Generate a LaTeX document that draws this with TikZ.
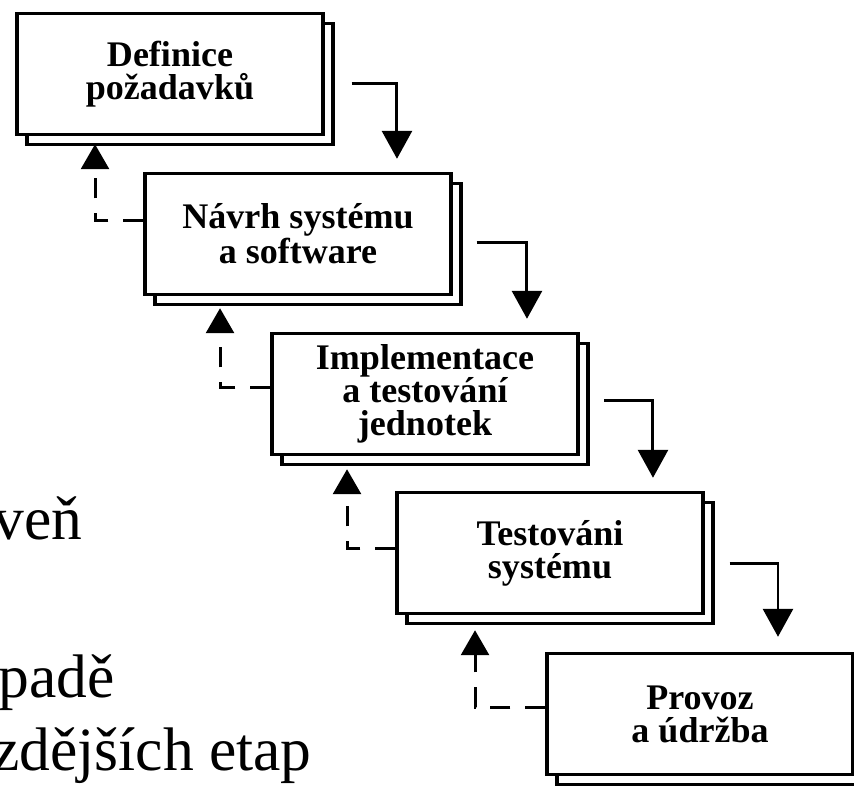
\documentclass[tikz,border=0pt]{standalone}
\usepackage{fontspec}
\setmainfont{Liberation Serif}
\usetikzlibrary{arrows.meta,shadows}

\tikzset{
  phase/.style={draw,fill=white,line width=0.07cm,
    minimum width=6.12cm,minimum height=2.42cm,align=center,
    font=\fontsize{20.5}{18.8}\selectfont\bfseries,
    copy shadow={shadow xshift=0.2cm,shadow yshift=-0.2cm}},
  flow/.style={line width=0.06cm,-{Triangle[length=0.56cm,width=0.6cm]}},
  back/.style={line width=0.06cm,dash pattern=on 0.4cm off 0.3cm,
    -{Triangle[length=0.5cm,width=0.56cm]}},
  residue/.style={anchor=base east,inner sep=0pt,
    font=\fontsize{35}{42}\selectfont}
}

\begin{document}
\begin{tikzpicture}[x=0.02cm,y=-0.02cm]
  \useasboundingbox (0,0) rectangle (854,785);
  \clip (0,0) rectangle (854,785);

  % text cut off at the left edge
  \node[residue] (t1) at (83,539) {veň};
  \node[residue] (t2) at (115,697) {padě};
  \node[residue] (t3) at (312,770) {zdějších etap};

  % phases
  \node[phase] (b1) at (170,74) {Definice\\požadavků};
  \node[phase] (b2) at (298,234) {Návrh systému\\a software};
  \node[phase] (b3) at (425,394) {Implementace\\a testování\\jednotek};
  \node[phase] (b4) at (550,553) {Testováni\\systému};
  \node[phase] (b5) at (700,714) {Provoz\\a údržba};

  % forward
  \draw[flow] ([xshift=0.54cm,yshift=-0.18cm]b1.east) -| ([xshift=1.98cm,yshift=0.26cm]b2.north);
  \draw[flow] ([xshift=0.48cm,yshift=-0.16cm]b2.east) -| ([xshift=2.04cm,yshift=0.26cm]b3.north);
  \draw[flow] ([xshift=0.49cm,yshift=-0.12cm]b3.east) -| ([xshift=2.06cm,yshift=0.26cm]b4.north);
  \draw[flow] ([xshift=0.5cm,yshift=-0.2cm]b4.east) -| ([xshift=1.56cm,yshift=0.3cm]b5.north);

  % feedback
  \draw[back] ([yshift=0.28cm]b2.west) -| ([xshift=-1.5cm,yshift=-0.16cm]b1.south);
  \draw[back] ([yshift=0.14cm]b3.west) -| ([xshift=-1.56cm,yshift=-0.24cm]b2.south);
  \draw[back] ([yshift=0.1cm]b4.west) -| ([xshift=-1.56cm,yshift=-0.26cm]b3.south);
  \draw[back] ([yshift=0.14cm]b5.west) -| ([xshift=-1.5cm,yshift=-0.3cm]b4.south);
\end{tikzpicture}
\end{document}
